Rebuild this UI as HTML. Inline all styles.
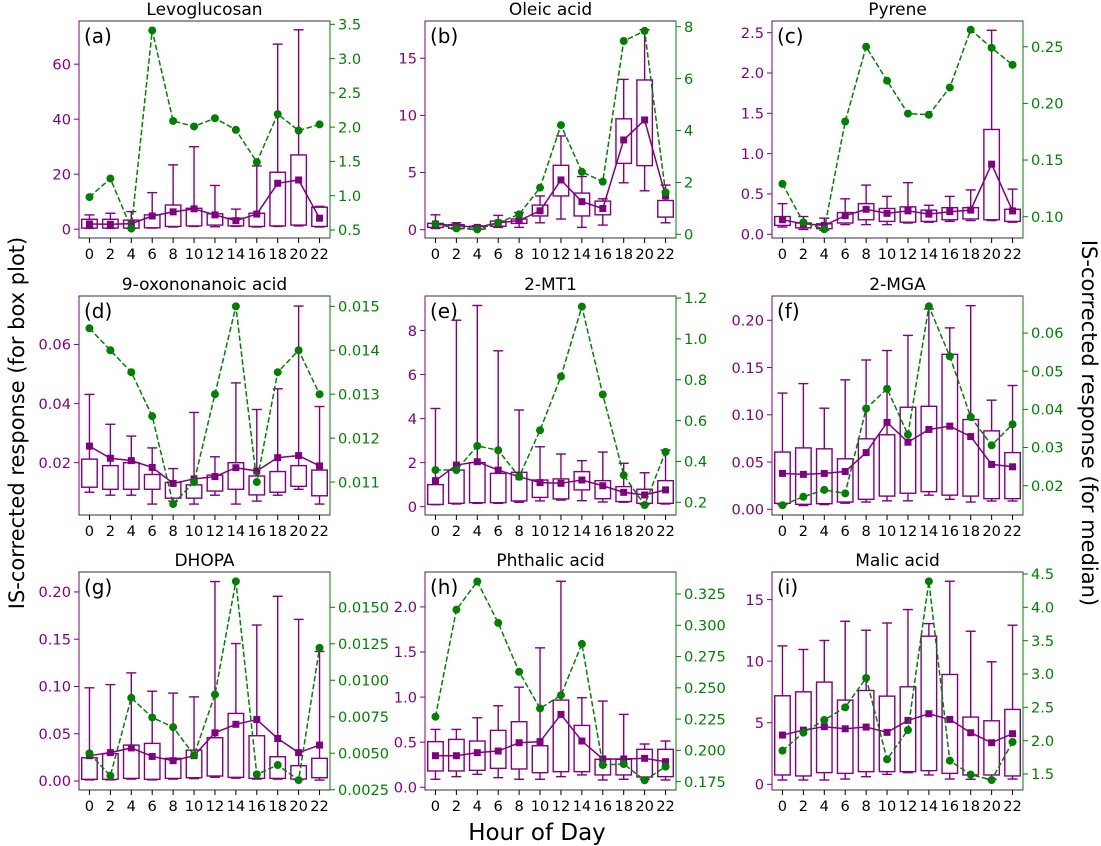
<!DOCTYPE html>
<html><head><meta charset="utf-8"><style>
html,body{margin:0;padding:0;background:#fff;}
svg{display:block;font-family:"DejaVu Sans","Liberation Sans",sans-serif;}
</style></head><body>
<svg id="fig" width="1101" height="846" viewBox="0 0 1101 846" xmlns="http://www.w3.org/2000/svg">
<text x="0" y="0" transform="translate(24,423) rotate(-90)" text-anchor="middle" font-size="21">IS-corrected response (for box plot)</text>
<text x="0" y="0" transform="translate(1082,423) rotate(90)" text-anchor="middle" font-size="21">IS-corrected response (for median)</text>
<text x="537" y="840" text-anchor="middle" font-size="23">Hour of Day</text>
</svg>
<script>
const hours = ["0","2","4","6","8","10","12","14","16","18","20","22"];
const titles = ["Levoglucosan","Oleic acid","Pyrene","9-oxononanoic acid","2-MT1","2-MGA","DHOPA","Phthalic acid","Malic acid"];
const letters = ["(a)","(b)","(c)","(d)","(e)","(f)","(g)","(h)","(i)"];
const boxQ3 = [
 [3.6,3.6,3.3,5.2,8.8,7.6,5.6,4,5.8,20.7,27,8],
 [0.55,0.44,0.3,0.75,0.93,2.15,5.63,3.2,2.5,9.7,13.1,2.55],
 [0.22,0.14,0.13,0.27,0.38,0.32,0.34,0.3,0.33,0.33,1.3,0.31],
 [0.0212,0.019,0.020,0.016,0.0133,0.0125,0.0158,0.020,0.0155,0.017,0.019,0.0175],
 [1.0,1.66,2.0,1.51,1.56,1.21,1.26,1.59,1.18,0.91,0.79,1.18],
 [0.0606,0.065,0.064,0.0535,0.0746,0.0789,0.108,0.109,0.164,0.095,0.083,0.06],
 [0.0246,0.029,0.038,0.0398,0.024,0.0327,0.0458,0.0715,0.0479,0.0257,0.0162,0.024],
 [0.506,0.531,0.513,0.631,0.727,0.461,0.967,0.686,0.31,0.31,0.421,0.421],
 [7.19,7.51,8.3,6.84,7.62,7.16,7.92,12.03,8.92,5.46,5.16,6.08]
];
const boxQ1 = [
 [0.4,0.4,0.4,0.5,1,1.2,1.5,1.2,1,1.2,1.5,1],
 [0.2,0.12,0.05,0.3,0.55,1.2,2.95,1.2,1.3,5.8,5.6,1.1],
 [0.11,0.08,0.07,0.14,0.18,0.16,0.15,0.16,0.18,0.19,0.18,0.16],
 [0.0117,0.011,0.011,0.011,0.008,0.008,0.0104,0.011,0.0091,0.010,0.012,0.0088],
 [0.1,0.15,0.18,0.18,0.26,0.42,0.35,0.76,0.36,0.23,0.15,0.15],
 [0.0063,0.0053,0.006,0.0077,0.0106,0.014,0.017,0.0187,0.015,0.014,0.0113,0.0113],
 [0.0018,0.0018,0.0028,0.0018,0.0028,0.0035,0.0053,0.0039,0.0028,0.0028,0.0021,0.0035],
 [0.181,0.181,0.188,0.21,0.203,0.162,0.173,0.173,0.137,0.137,0.114,0.118],
 [0.76,0.68,0.95,0.89,1.03,1.03,1.03,1.11,0.89,0.76,0.76,0.68]
];
const whiskerHi = [
 [5.2,5.8,6.4,13.3,23.4,30,15.9,7.3,23,67.3,72.5,8.3],
 [1.3,0.6,0.35,1.25,1.5,2.95,8.2,4.65,2.7,13.15,17.5,3.9],
 [0.38,0.22,0.2,0.44,0.61,0.47,0.64,0.36,0.47,0.55,2.53,0.56],
 [0.0431,0.033,0.029,0.025,0.018,0.037,0.022,0.047,0.038,0.045,0.073,0.039],
 [4.46,8.47,9.14,7.08,4.39,2.72,2.39,2.09,2.48,1.97,1.54,2.57],
 [0.123,0.133,0.107,0.137,0.158,0.168,0.184,0.212,0.192,0.2155,0.1155,0.131],
 [0.0986,0.102,0.1144,0.095,0.093,0.089,0.211,0.1454,0.165,0.1954,0.171,0.137],
 [0.642,0.642,0.771,0.904,1.11,1.546,2.284,0.993,0.956,0.808,0.48,0.513],
 [11.24,10.95,11.68,13.24,12.51,13.1,14.19,13.05,16.49,12.43,9.95,12.92]
];
const whiskerLo = [
 [0.3,0.3,0.3,0.4,0.8,1,0.9,1,0.8,1,1.2,0.8],
 [0.1,0.05,0.02,0.2,0.2,0.6,0.93,0.2,0.4,4.1,3.4,0.6],
 [0.09,0.06,0.05,0.12,0.12,0.12,0.14,0.15,0.16,0.17,0.17,0.15],
 [0.010,0.009,0.009,0.006,0.007,0.006,0.009,0.006,0.007,0.009,0.011,0.006],
 [0.09,0.12,0.15,0.15,0.2,0.26,0.3,0.27,0.21,0.2,0.1,0.12],
 [0.005,0.004,0.005,0.0065,0.0077,0.009,0.009,0.015,0.0106,0.0077,0.0088,0.0088],
 [0.0012,0.0012,0.002,0.0012,0.002,0.0025,0.004,0.003,0.002,0.002,0.0015,0.001],
 [0.089,0.118,0.144,0.107,0.089,0.089,0.118,0.137,0.081,0.089,0.089,0.081],
 [0.35,0.35,0.35,0.43,0.62,0.81,0.95,0.76,0.43,0.41,0.41,0.43]
];
const medians = [
 [1.9,1.8,2,4.8,6.3,7.4,5.2,3.1,5.5,16.7,17.9,4],
 [0.5,0.35,0.2,0.6,0.8,1.65,4.35,2.45,1.85,7.85,9.6,2.95],
 [0.18,0.13,0.11,0.23,0.31,0.26,0.29,0.25,0.28,0.3,0.87,0.29],
 [0.0256,0.0215,0.0207,0.0184,0.013,0.0145,0.0153,0.0183,0.0172,0.0217,0.0224,0.0189],
 [1.18,1.89,2.04,1.66,1.36,1.09,1.06,1.21,0.95,0.65,0.53,0.76],
 [0.038,0.037,0.038,0.040,0.060,0.092,0.071,0.0845,0.088,0.077,0.0475,0.045],
 [0.0268,0.030,0.035,0.026,0.0215,0.0268,0.051,0.060,0.065,0.045,0.030,0.038],
 [0.35,0.35,0.384,0.402,0.494,0.506,0.808,0.513,0.314,0.314,0.321,0.284],
 [4.0,4.4,4.68,4.51,4.65,4.22,5.19,5.73,5.27,4.19,3.38,4.11]
];
const greenMedian = [
 [0.98,1.25,0.52,3.41,2.09,2.01,2.13,1.96,1.49,2.19,1.95,2.04],
 [0.4,0.23,0.19,0.45,0.77,1.8,4.21,2.41,2.03,7.45,7.84,1.62],
 [0.129,0.095,0.089,0.184,0.25,0.22,0.191,0.19,0.214,0.265,0.249,0.234],
 [0.0145,0.0140,0.0135,0.0125,0.0105,0.011,0.013,0.0150,0.011,0.0135,0.014,0.013],
 [0.358,0.358,0.476,0.455,0.325,0.553,0.816,1.158,0.728,0.333,0.187,0.447],
 [0.0149,0.0171,0.0189,0.018,0.0402,0.0454,0.0334,0.067,0.0539,0.038,0.0306,0.0361],
 [0.00499,0.00346,0.0088,0.00745,0.00679,0.00487,0.00902,0.01678,0.00355,0.00419,0.00316,0.01222],
 [0.2269,0.3125,0.335,0.3019,0.2628,0.2335,0.2441,0.2851,0.1883,0.1891,0.1761,0.187],
 [1.85,2.12,2.31,2.5,2.94,1.72,2.16,4.39,1.7,1.49,1.41,1.98]
];
const leftRange = [[-3.2,75.7],[-0.73,18.26],[-0.046,2.645],[0.0023,0.0764],[-0.38,9.57],[-0.006,0.2257],[-0.0095,0.2211],[-0.03,2.387],[-0.46,17.24]];
const rightRange = [[0.383,3.548],[-0.14,8.22],[0.0812,0.2727],[0.01025,0.015235],[0.138,1.21],[0.01233,0.0697],[0.00248,0.01742],[0.1683,0.3426],[1.26,4.53]];
const leftTicks = [["0","20","40","60"],["0","5","10","15"],["0.0","0.5","1.0","1.5","2.0","2.5"],["0.02","0.04","0.06"],["0","2","4","6","8"],["0.00","0.05","0.10","0.15","0.20"],["0.00","0.05","0.10","0.15","0.20"],["0.0","0.5","1.0","1.5","2.0"],["0","5","10","15"]];
const rightTicks = [["0.5","1.0","1.5","2.0","2.5","3.0","3.5"],["0","2","4","6","8"],["0.10","0.15","0.20","0.25"],["0.011","0.012","0.013","0.014","0.015"],["0.2","0.4","0.6","0.8","1.0","1.2"],["0.02","0.03","0.04","0.05","0.06"],["0.0025","0.0050","0.0075","0.0100","0.0125","0.0150"],["0.175","0.200","0.225","0.250","0.275","0.300","0.325"],["1.5","2.0","2.5","3.0","3.5","4.0","4.5"]];

const NS="http://www.w3.org/2000/svg";
const svg=document.getElementById('fig');
const colL=[79,425,772], colW=251, rowT=[21,296,572], rowB=[238,515,790];
const PUR="#800080", GRN="#008000";
const TICKFS=14.6;
function mk(tag,attrs,parent){const e=document.createElementNS(NS,tag);for(const k in attrs)e.setAttribute(k,attrs[k]);(parent||svg).appendChild(e);return e;}

for(let p=0;p<9;p++){
  const L=colL[p%3], R=L+colW, T=rowT[Math.floor(p/3)], B=rowB[Math.floor(p/3)];
  const g=mk('g',{});
  
  
  const xs=i=>L+(i+0.5)*colW/12;
  const yl=v=>B-(v-leftRange[p][0])/(leftRange[p][1]-leftRange[p][0])*(B-T);
  const yr=v=>B-(v-rightRange[p][0])/(rightRange[p][1]-rightRange[p][0])*(B-T);
  const sp=mk('rect',{x:L,y:T,width:colW,height:B-T,fill:'none',stroke:'#333','stroke-width':1},g);
  
  
  mk('line',{x1:L,y1:T,x2:L,y2:B,stroke:PUR,'stroke-width':1},g);
  mk('line',{x1:R,y1:T,x2:R,y2:B,stroke:GRN,'stroke-width':1},g);
  const tt=mk('text',{x:(L+R)/2,y:T-6,'text-anchor':'middle','font-size':17},g);tt.textContent=titles[p];
  
  
  const lt=mk('text',{x:L+5,y:T+22,'font-size':20},g);lt.textContent=letters[p];
  
  
  hours.forEach((h,i)=>{const x=xs(i);mk('line',{x1:x,y1:B,x2:x,y2:B+5,stroke:'#000'},g);
    const t=mk('text',{x:x,y:B+21,'text-anchor':'middle','font-size':TICKFS},g);t.textContent=h;
    
    });
  leftTicks[p].forEach(s=>{const y=yl(parseFloat(s));mk('line',{x1:L-5,y1:y,x2:L,y2:y,stroke:PUR},g);
    const t=mk('text',{x:L-8,y:y+5.2,'text-anchor':'end','font-size':TICKFS,fill:PUR},g);t.textContent=s;
    
    });
  rightTicks[p].forEach(s=>{const y=yr(parseFloat(s));mk('line',{x1:R,y1:y,x2:R+5,y2:y,stroke:GRN},g);
    const t=mk('text',{x:R+8,y:y+5.2,'text-anchor':'start','font-size':TICKFS,fill:GRN},g);t.textContent=s;
    
    });
  const bw=15.5, cw=10;
  for(let i=0;i<12;i++){
    const x=xs(i);
    const bg=mk('g',{stroke:PUR,'stroke-width':1.4,fill:'none'},g);
    
    
    mk('line',{x1:x,y1:yl(boxQ3[p][i]),x2:x,y2:yl(whiskerHi[p][i])},bg);
    mk('line',{x1:x,y1:yl(boxQ1[p][i]),x2:x,y2:yl(whiskerLo[p][i])},bg);
    mk('line',{x1:x-cw/2,y1:yl(whiskerHi[p][i]),x2:x+cw/2,y2:yl(whiskerHi[p][i])},bg);
    mk('line',{x1:x-cw/2,y1:yl(whiskerLo[p][i]),x2:x+cw/2,y2:yl(whiskerLo[p][i])},bg);
    mk('rect',{x:x-bw/2,y:yl(boxQ3[p][i]),width:bw,height:yl(boxQ1[p][i])-yl(boxQ3[p][i])},bg);
  }
  const mp=medians[p].map((v,i)=>xs(i)+','+yl(v)).join(' ');
  const ml=mk('polyline',{points:mp,fill:'none',stroke:PUR,'stroke-width':1.5},g);
  
  
  medians[p].forEach((v,i)=>{const s=mk('rect',{x:xs(i)-3.5,y:yl(v)-3.5,width:7,height:7,fill:PUR},g);
    
    });
  const gp=greenMedian[p].map((v,i)=>xs(i)+','+yr(v)).join(' ');
  const gl=mk('polyline',{points:gp,fill:'none',stroke:GRN,'stroke-width':1.5,'stroke-dasharray':'5.5,2.5'},g);
  
  
  greenMedian[p].forEach((v,i)=>{const c=mk('circle',{cx:xs(i),cy:yr(v),r:4,fill:GRN},g);
    
    });
}
</script>
</body></html>
